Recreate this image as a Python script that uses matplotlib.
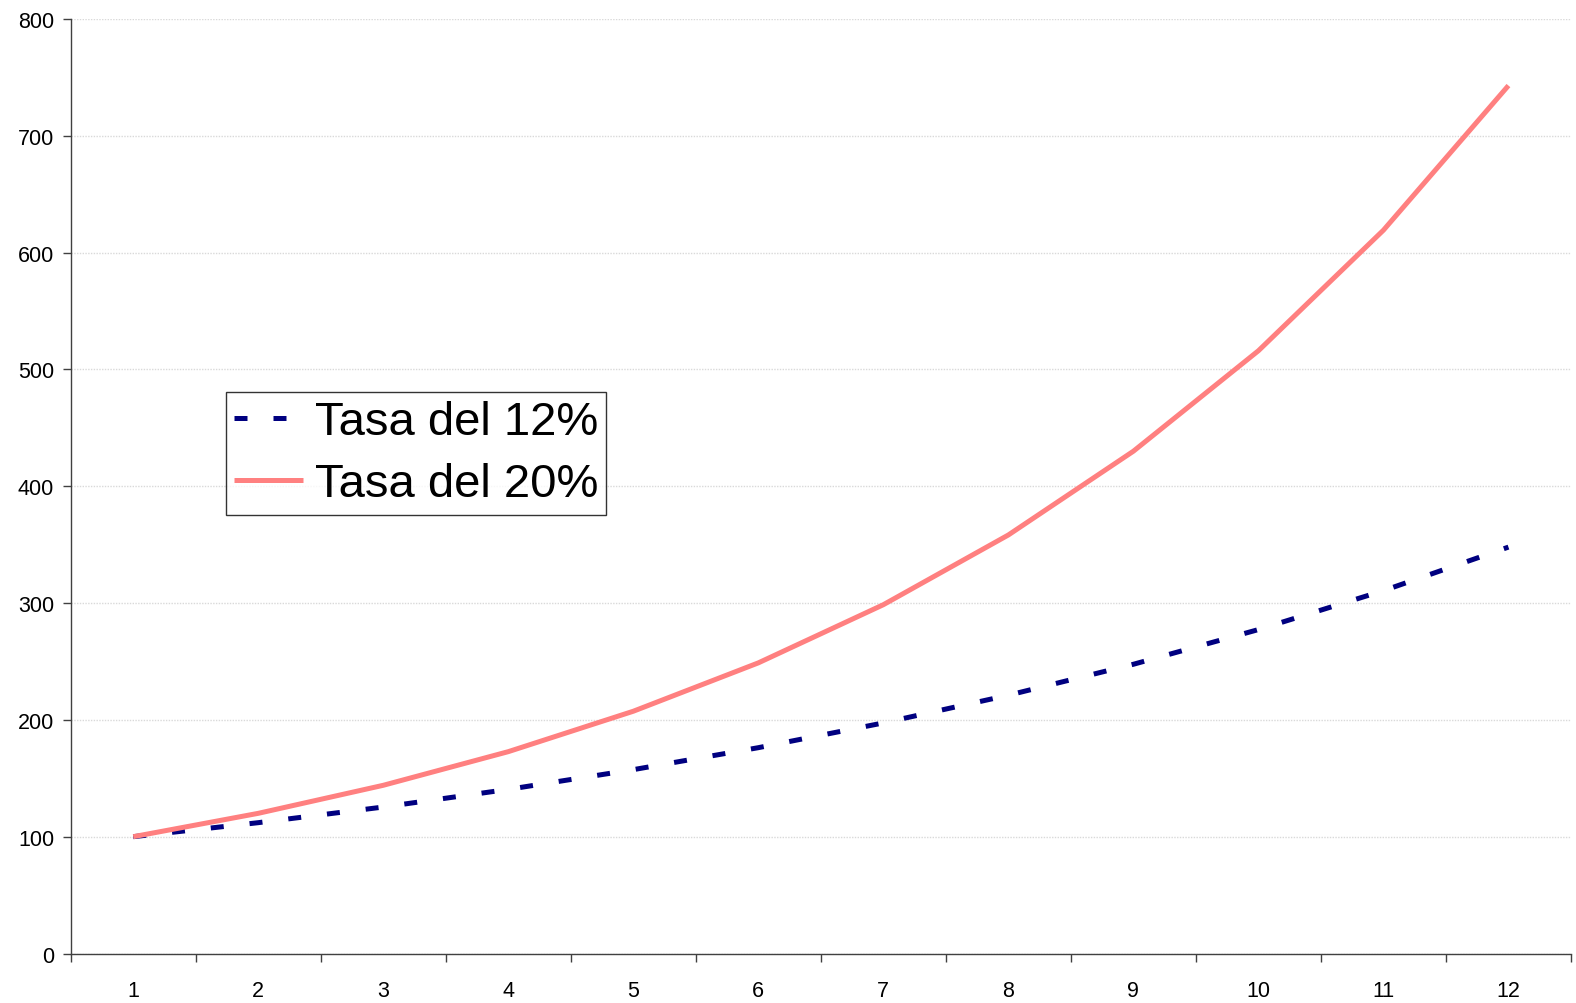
import matplotlib
matplotlib.use("Agg")
import matplotlib.pyplot as plt
from matplotlib.ticker import FixedLocator

# values
periods = [1, 2, 3, 4, 5, 6, 7, 8, 9, 10, 11, 12]
tasa_12 = [100, 112, 125.4, 140.5, 157.4, 176.2, 197.4, 221.1, 247.6, 277.3, 310.6, 347.9]
tasa_20 = [100, 120, 144, 172.8, 207.4, 248.8, 298.6, 358.3, 430.0, 516.0, 619.2, 743.0]
y_ticks = [0, 100, 200, 300, 400, 500, 600, 700, 800]
labels = ["Tasa del 12%", "Tasa del 20%"]

plt.rcParams["font.family"] = ["Liberation Sans", "DejaVu Sans"]

fig = plt.figure(figsize=(15.76, 10.04), dpi=100)
ax = fig.add_axes([0.0449, 0.0493, 0.9519, 0.9308])

ax.plot(periods, tasa_12, color="#000080", lw=3.6, dashes=(2.6, 5.2),
        dash_capstyle="butt", label=labels[0], zorder=3)
ax.plot(periods, tasa_20, color="#FF8080", lw=3.6, solid_capstyle="butt",
        label=labels[1], zorder=4)

ax.set_xlim(0.5, 12.5)
ax.set_ylim(0, 800)
ax.set_yticks(y_ticks)
ax.set_xticks(periods)
ax.xaxis.set_minor_locator(FixedLocator([p + 0.5 for p in [0] + periods]))
ax.tick_params(axis="x", which="major", length=0, pad=19, labelsize=15.5)
ax.tick_params(axis="x", which="minor", length=6, width=1, direction="out",
               color="#404040")
ax.tick_params(axis="y", length=6, width=1, direction="out", labelsize=15.5,
               pad=6, color="#404040")

ax.grid(axis="y", color="#d9d9d9", lw=1, ls=(0, (1, 1)))
ax.set_axisbelow(True)
for side in ("top", "right"):
    ax.spines[side].set_visible(False)
for side in ("left", "bottom"):
    ax.spines[side].set_color("#404040")
    ax.spines[side].set_linewidth(1)

leg = ax.legend(loc="upper left", bbox_to_anchor=(0.1033, 0.601), fontsize=34,
                frameon=True, fancybox=False, edgecolor="black", handlelength=1.45,
                handletextpad=0.25, borderpad=0.18, labelspacing=0.38,
                borderaxespad=0)
leg.get_frame().set_linewidth(1)

fig.savefig("out.png", dpi=100)
